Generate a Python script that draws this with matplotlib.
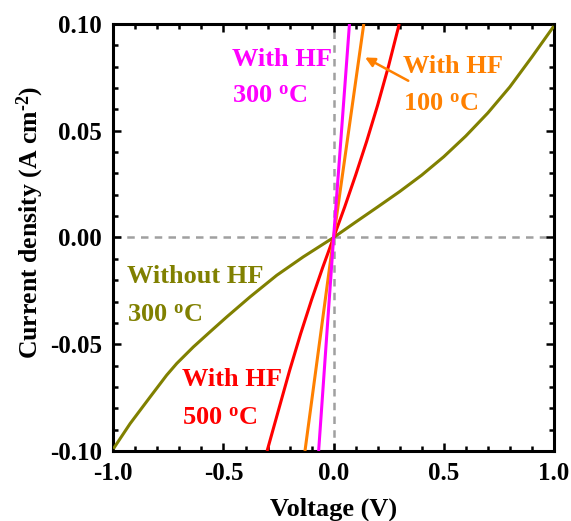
import matplotlib
matplotlib.use("Agg")
import matplotlib.pyplot as plt
from matplotlib.ticker import MultipleLocator, FormatStrFormatter

plt.rcParams['font.family'] = ['Liberation Serif', 'DejaVu Serif']
plt.rcParams['font.weight'] = 'bold'
plt.rcParams['mathtext.fontset'] = 'custom'
plt.rcParams['mathtext.rm'] = 'Liberation Serif:bold'
plt.rcParams['mathtext.bf'] = 'Liberation Serif:bold'
plt.rcParams['mathtext.it'] = 'Liberation Serif:bold'

# Data
v_without_hf = [-1.0, -0.924, -0.833, -0.758, -0.712, -0.637, -0.561, -0.485, -0.379,
                -0.258, -0.138, 0.0, 0.1, 0.2, 0.3, 0.4, 0.5, 0.6, 0.7, 0.8, 0.9, 1.0]
j_without_hf = [-0.099, -0.0872, -0.0747, -0.0645, -0.059, -0.0513, -0.0442, -0.0372, -0.0278,
                -0.0177, -0.0091, 0.0, 0.0072, 0.0143, 0.0215, 0.0292, 0.0378, 0.0475,
                0.0583, 0.0705, 0.0845, 0.099]

v_hf500 = [-0.302, -0.25, -0.2, -0.15, -0.1, -0.05, 0.0, 0.05, 0.1, 0.15, 0.2, 0.25, 0.298]
j_hf500 = [-0.1, -0.0808, -0.0624, -0.0452, -0.0292, -0.0142, 0.0, 0.0142, 0.0292,
           0.0450, 0.0620, 0.0805, 0.1]

v_hf100 = [-0.130, 0.0, 0.137]
j_hf100 = [-0.1, 0.0, 0.1]

v_hf300 = [-0.068, 0.0, 0.072]
j_hf300 = [-0.1, 0.0, 0.1]

xticks = [-1.0, -0.5, 0.0, 0.5, 1.0]
yticks = [-0.10, -0.05, 0.00, 0.05, 0.10]

fig = plt.figure(figsize=(5.71, 5.21), dpi=100)
ax = fig.add_axes([0.1985, 0.1344, 0.7715, 0.8196])

lw = 2.2
ax.axhline(0, color='#A0A0A0', lw=1.8, ls=(0, (3, 2.5)), zorder=1)
ax.axvline(0, color='#A0A0A0', lw=1.8, ls=(0, (3, 2.5)), zorder=1)

kw = dict(lw=lw, zorder=3, solid_joinstyle='round', solid_capstyle='butt')
ax.plot(v_without_hf, j_without_hf, color='#808000', **kw)
ax.plot(v_hf500, j_hf500, color='#FF0000', **kw)
ax.plot(v_hf100, j_hf100, color='#FF8000', **kw)
ax.plot(v_hf300, j_hf300, color='#FF00FF', **kw)

ax.set_xlim(-1.0, 1.0)
ax.set_ylim(-0.10, 0.10)
ax.set_xticks(xticks)
ax.set_yticks(yticks)
ax.xaxis.set_minor_locator(MultipleLocator(0.1))
ax.yaxis.set_minor_locator(MultipleLocator(0.01))
ax.xaxis.set_major_formatter(FormatStrFormatter('%.1f'))
ax.yaxis.set_major_formatter(FormatStrFormatter('%.2f'))

for s in ax.spines.values():
    s.set_linewidth(2.2)
ax.tick_params(which='both', direction='in', top=True, right=True, width=1.8,
               labelsize=18, pad=8)
ax.tick_params(which='major', length=5.8)
ax.tick_params(which='minor', length=3.6)
for lab in ax.get_xticklabels() + ax.get_yticklabels():
    lab.set_fontweight('bold')

ax.set_xlabel('Voltage (V)', fontsize=19, fontweight='bold', labelpad=9)
ax.set_ylabel(r'Current density (A cm$^{\text{-}2}$)', fontsize=18.5, fontweight='bold',
              labelpad=3, y=0.535)

fs = 19
ax.text(-0.462, 0.0805, 'With HF', color='#FF00FF', fontsize=fs, fontweight='bold', va='baseline')
ax.text(-0.462, 0.063, r'300 $^{\mathrm{o}}$C', color='#FF00FF', fontsize=fs, fontweight='bold', va='baseline')

ax.text(0.316, 0.0768, 'With HF', color='#FF8000', fontsize=fs, fontweight='bold', va='baseline')
ax.text(0.316, 0.0593, r'100 $^{\mathrm{o}}$C', color='#FF8000', fontsize=fs, fontweight='bold', va='baseline')

ax.text(-0.94, -0.0215, 'Without HF', color='#808000', fontsize=fs, fontweight='bold', va='baseline')
ax.text(-0.94, -0.0395, r'300 $^{\mathrm{o}}$C', color='#808000', fontsize=fs, fontweight='bold', va='baseline')

ax.text(-0.687, -0.0697, 'With HF', color='#FF0000', fontsize=fs, fontweight='bold', va='baseline')
ax.text(-0.687, -0.0875, r'500 $^{\mathrm{o}}$C', color='#FF0000', fontsize=fs, fontweight='bold', va='baseline')

ax.annotate('', xy=(0.143, 0.0843), xytext=(0.339, 0.0734),
            arrowprops=dict(arrowstyle='-|>', color='#FF8000', lw=1.8,
                            mutation_scale=14, shrinkA=0, shrinkB=0), zorder=4)

fig.savefig('out.png', dpi=100)
